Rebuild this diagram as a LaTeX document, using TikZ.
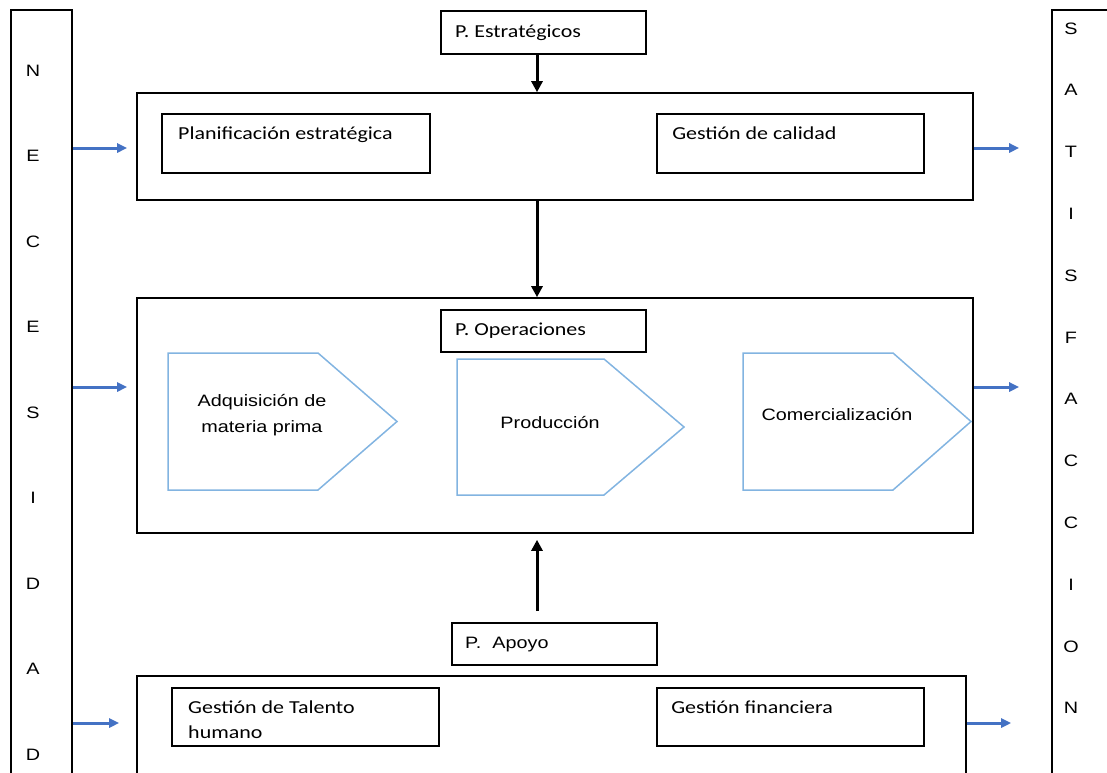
\documentclass[tikz,border=0pt]{standalone}
\usepackage{fontspec}
\usetikzlibrary{arrows.meta}
\newfontfamily\calfont{Carlito}
\newfontfamily\arfont{Liberation Sans}
\definecolor{flowblue}{RGB}{68,114,196}
\definecolor{stageblue}{RGB}{130,180,225}
\tikzset{
  frame/.style={draw=black, line width=1.6pt, rectangle, inner sep=0pt},
  boxtext/.style={inner sep=0pt, anchor=base west, xscale=1.2,
    font=\calfont\fontsize{18.3}{25}\selectfont},
  stagetext/.style={inner sep=0pt, anchor=base, xscale=1.2, align=center,
    font=\arfont\fontsize{16.5}{26}\selectfont},
  letter/.style={inner sep=0pt, anchor=base, xscale=1.2,
    font=\arfont\fontsize{16.5}{20}\selectfont},
  stage/.style={draw=stageblue, line width=1.5pt, line join=miter},
  blackarrow/.style={draw=black, line width=3pt,
    -{Triangle[length=11pt,width=11pt]}},
  bluearrow/.style={draw=flowblue, line width=3pt,
    -{Triangle[length=10pt,width=9pt]}}
}
\begin{document}
\begin{tikzpicture}[x=1pt,y=-1pt]
\useasboundingbox (0,0) rectangle (1107,772);
\clip (0,0) rectangle (1107,772);

% side columns
\node[frame, minimum width=61, minimum height=790] (need) at (41.5,405) {};
\node[frame, minimum width=78, minimum height=790] (satis) at (1091,405) {};
\foreach \ch [count=\i from 0] in {N,E,C,E,S,I,D,A,D}
  \node[letter] (nl\i) at (33,{76+85.5*\i}) {\ch};
\foreach \ch [count=\i from 0] in {S,A,T,I,S,F,A,C,C,I,O,N}
  \node[letter] (sl\i) at (1071,{34+61.8*\i}) {\ch};

% strategic processes
\node[frame, minimum width=205, minimum height=43] (pest) at (543.5,32.5) {};
\node[boxtext] (pesttxt) at (455,37) {P. Estratégicos};
\node[frame, minimum width=836, minimum height=107] (topbox) at (555,146.5) {};
\node[frame, minimum width=268, minimum height=59] (plan) at (296,143.5) {};
\node[boxtext] (plantxt) at (178,139) {Planificación estratégica};
\node[frame, minimum width=267, minimum height=59] (calidad) at (790.5,143.5) {};
\node[boxtext] (calidadtxt) at (672,139) {Gestión de calidad};

% operational processes
\node[frame, minimum width=836, minimum height=235] (midbox) at (555,415.5) {};
\node[frame, minimum width=205, minimum height=42] (pop) at (543.5,331) {};
\node[boxtext] (poptxt) at (455,335) {P. Operaciones};

\draw[stage] (168,353) -- (318,353) -- (397,421.5) -- (318,490) -- (168,490) -- cycle;
\draw[stage] (457,359) -- (604,359) -- (684,427) -- (604,495) -- (457,495) -- cycle;
\draw[stage] (743,353) -- (893,353) -- (971,421.5) -- (893,490) -- (743,490) -- cycle;
\node[stagetext] (adq) at (262,432) {Adquisición de\\materia prima};
\node[stagetext] (prod) at (550,428) {Producción};
\node[stagetext] (com) at (837,420) {Comercialización};

% support processes
\node[frame, minimum width=205, minimum height=42] (papoyo) at (554.5,644) {};
\node[inner sep=0pt, anchor=base west, xscale=1.2,
  font=\arfont\fontsize{16.5}{20}\selectfont] (papoyotxt) at (465,648) {P.\ \ Apoyo};
\node[frame, minimum width=829, minimum height=124] (botbox) at (551.5,738) {};
\node[frame, minimum width=267, minimum height=58] (talento) at (305.5,717) {};
\node[boxtext, align=left] (talentotxt) at (188,738) {Gestión de Talento\\humano};
\node[frame, minimum width=267, minimum height=58] (finan) at (790.5,717) {};
\node[boxtext] (finantxt) at (671,713) {Gestión financiera};

% vertical flow
\coordinate (ax) at (537,0);
\draw[blackarrow] (pest.south -| ax) -- (topbox.north -| ax);
\draw[blackarrow] (topbox.south -| ax) -- (midbox.north -| ax);
\draw[blackarrow, shorten <=11pt, shorten >=6pt] (papoyo.north -| ax) -- (midbox.south -| ax);

% inputs and outputs
\coordinate (r1) at (0,148);
\coordinate (r2) at (0,387);
\coordinate (r3) at (0,723);
\draw[bluearrow, shorten >=9pt] (need.east |- r1) -- (topbox.west |- r1);
\draw[bluearrow, shorten >=32pt] (topbox.east |- r1) -- (satis.west |- r1);
\draw[bluearrow, shorten >=9pt] (need.east |- r2) -- (midbox.west |- r2);
\draw[bluearrow, shorten >=32pt] (midbox.east |- r2) -- (satis.west |- r2);
\draw[bluearrow, shorten >=17pt] (need.east |- r3) -- (botbox.west |- r3);
\draw[bluearrow, shorten >=40pt] (botbox.east |- r3) -- (satis.west |- r3);
\end{tikzpicture}
\end{document}
